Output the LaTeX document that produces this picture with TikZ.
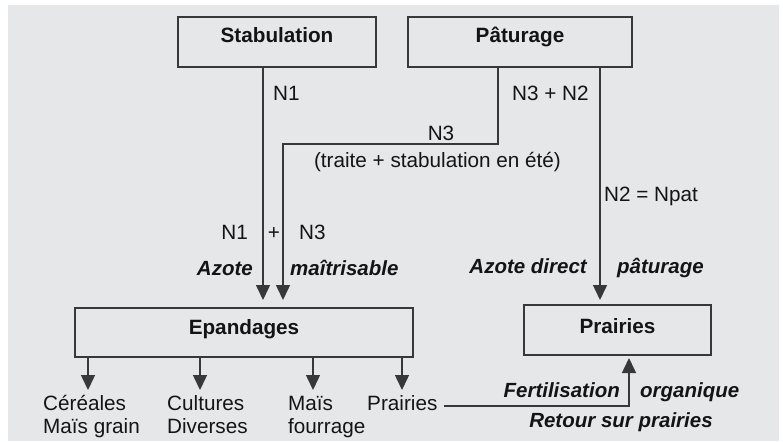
\documentclass[tikz,border=0pt]{standalone}
\usepackage{fontspec}
\setmainfont{Liberation Sans}
\usetikzlibrary{arrows.meta}
\definecolor{bgc}{HTML}{E6E7E9}
\definecolor{lnc}{HTML}{383838}
\definecolor{txc}{HTML}{141414}
\begin{document}
\begin{tikzpicture}[x=1pt,y=-1pt,
  box/.style={draw=lnc, line width=1.8pt, inner sep=0pt, anchor=base,
    font=\fontsize{20.7}{24}\selectfont\bfseries, text=txc},
  lbl/.style={inner sep=0pt, font=\fontsize{20.7}{24}\selectfont, text=txc},
  emp/.style={inner sep=0pt, font=\fontsize{20.5}{24}\selectfont\bfseries\itshape, text=txc},
  arr/.style={draw=lnc, line width=1.5pt, -{Triangle[width=14pt 0 0,length=15pt 0 0]}},
  conn/.style={draw=lnc, line width=1.5pt}]
\useasboundingbox (0,0) rectangle (783,441);
\fill[bgc] (8,5) rectangle (779,441);

% boxes
\node[box, minimum width=198pt, text height=26pt, text depth=24pt] (stab) at (277,43) {Stabulation};
\node[box, minimum width=224pt, text height=26pt, text depth=24pt] (pat) at (520,43) {Pâturage};
\node[box, minimum width=338pt, text height=26pt, text depth=23pt] (epa) at (244,334) {Epandages};
\node[box, minimum width=187pt, text height=28pt, text depth=22pt] (prai) at (617.5,333) {Prairies};

% coordinates
\coordinate (t1) at (263,300);
\coordinate (k3) at (498,144);
\coordinate (t3) at (283,300);
\coordinate (t2) at (600,300);
\coordinate (s1) at (88,390);
\coordinate (s2) at (200,390);
\coordinate (s3) at (313,390);
\coordinate (s4) at (402,390);
\coordinate (t5) at (629,358);

% connectors
\draw[arr] (stab.south -| t1) -- (t1);
\draw[arr] (pat.south -| k3) -- (k3) -| (t3);
\draw[arr] (pat.south -| t2) -- (t2);
\foreach \s in {s1,s2,s3,s4} \draw[arr] (epa.south -| \s) -- (\s);

% labels
\node[lbl, anchor=base west] (ln1) at (273,100) {N1};
\node[lbl, anchor=base west] (ln32) at (512,100) {N3 + N2};
\node[lbl, anchor=base] (ln3) at (441,140) {N3};
\node[lbl, anchor=base] (ltr) at (437.5,167) {(traite + stabulation en été)};
\node[lbl, anchor=base west] (ln2) at (604,201) {N2 = Npat};
\node[lbl, anchor=base east] (ln1b) at (248,239) {N1};
\node[lbl, anchor=base] (lplus) at (274,239) {+};
\node[lbl, anchor=base west] (ln3b) at (299,239) {N3};
\node[emp, anchor=base east] (laz) at (253,275) {Azote};
\node[emp, anchor=base west] (lma) at (290,275) {maîtrisable};
\node[emp, anchor=base east] (lad) at (587,273) {Azote direct};
\node[emp, anchor=base west] (lpa) at (617,273) {pâturage};
\node[emp, anchor=base east] (lfe) at (620,397) {Fertilisation};
\node[emp, anchor=base west] (lor) at (640,397) {organique};
\node[emp, anchor=base] (lre) at (621,427) {Retour sur prairies};

\node[lbl, anchor=base west] (c1a) at (43,410) {Céréales};
\node[lbl, anchor=base west] (c1b) at (43,433) {Maïs grain};
\node[lbl, anchor=base west] (c2a) at (167,410) {Cultures};
\node[lbl, anchor=base west] (c2b) at (167,433) {Diverses};
\node[lbl, anchor=base west] (c3a) at (288,410) {Maïs};
\node[lbl, anchor=base west] (c3b) at (288,433) {fourrage};
\node[lbl, anchor=base west] (c4a) at (367,410) {Prairies};

\draw[arr] ([shift={(6,-4)}]c4a.base east) -| (t5);
\end{tikzpicture}
\end{document}
